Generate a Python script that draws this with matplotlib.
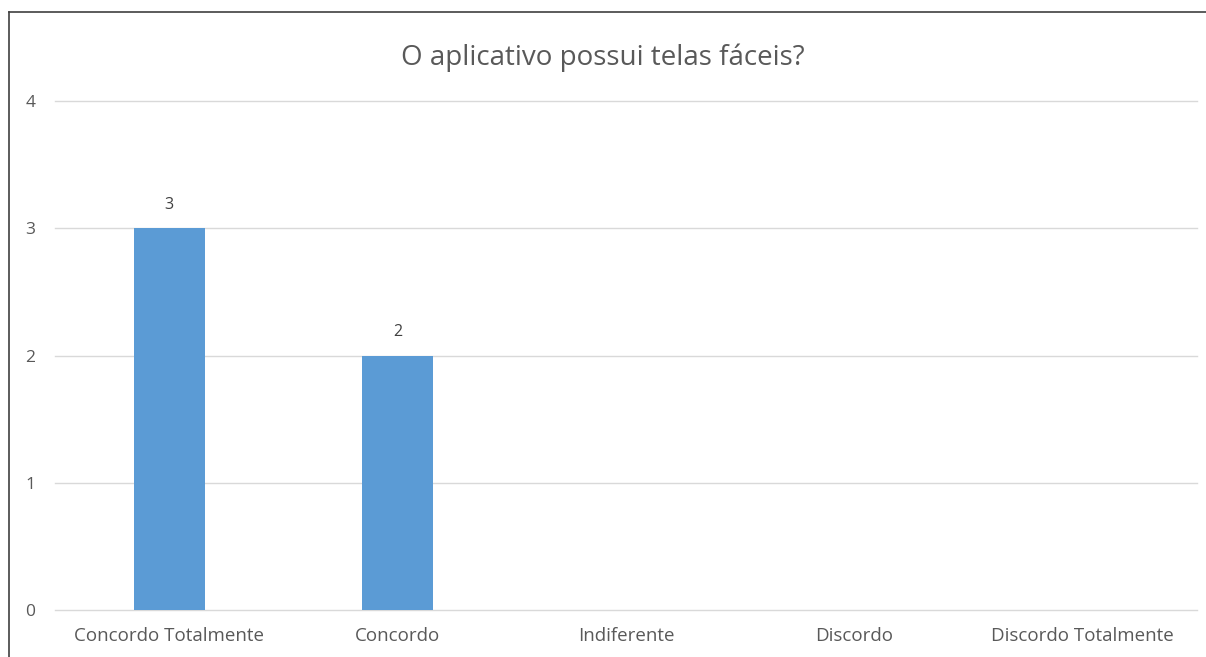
import matplotlib
matplotlib.use("Agg")
import matplotlib.pyplot as plt
from matplotlib.lines import Line2D

categories = ["Concordo Totalmente", "Concordo", "Indiferente", "Discordo", "Discordo Totalmente"]
counts = [3, 2, 0, 0, 0]
yticks = [0, 1, 2, 3, 4]

plt.rcParams["font.family"] = ["Open Sans", "DejaVu Sans"]

fig = plt.figure(figsize=(12.06, 6.57), dpi=100)
ax = fig.add_axes([0.0456, 0.0715, 0.947, 0.7748])

bar_color = "#5B9BD5"
text_color = "#595959"

x = range(len(categories))
bars = ax.bar(x, counts, width=0.31, color=bar_color, zorder=3)

# value labels only on bars that have a value
for rect, v in zip(bars, counts):
    if v > 0:
        ax.annotate(str(v), (rect.get_x() + rect.get_width() / 2, v),
                    xytext=(0, 11), textcoords="offset points",
                    ha="center", va="bottom", fontsize=11.5, color="#404040")

ax.set_xlim(-0.5, len(categories) - 0.5)
ax.set_ylim(0, 4)
ax.set_yticks(yticks)
ax.set_xticks(list(x))
ax.set_xticklabels(categories)
ax.tick_params(axis="both", length=0, labelsize=12.5, colors=text_color)
ax.tick_params(axis="x", labelsize=13.5, pad=12)
ax.tick_params(axis="y", pad=14)
ax.yaxis.grid(True, color="#D9D9D9", linewidth=1)
for gl in ax.get_ygridlines():
    gl.set_clip_on(False)
ax.set_axisbelow(True)
for s in ax.spines.values():
    s.set_visible(False)

fig.text(0.5, 1 - 58 / 657, "O aplicativo possui telas fáceis?",
         ha="center", va="center", fontsize=20, color=text_color)

# chart frame, top and left edges
fig.add_artist(Line2D([9 / 1206, 9 / 1206], [0, 1 - 12 / 657],
                      transform=fig.transFigure, color="#404040", linewidth=1.2))
fig.add_artist(Line2D([9 / 1206, 1], [1 - 12 / 657, 1 - 12 / 657],
                      transform=fig.transFigure, color="#404040", linewidth=1.2))

fig.savefig("out.png", dpi=100, facecolor="white")
